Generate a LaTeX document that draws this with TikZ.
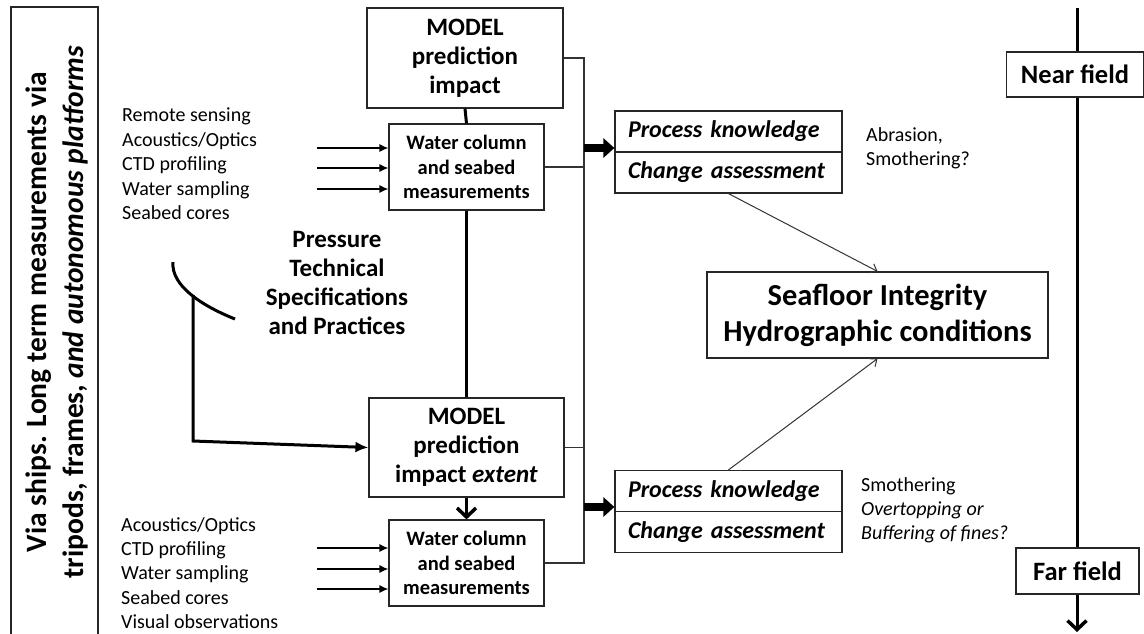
\documentclass[tikz,border=0pt]{standalone}
\usepackage{fontspec}
\setmainfont{Carlito}
\usetikzlibrary{arrows.meta}
\newcommand{\setfs}[2]{\fontsize{#1}{#2}\selectfont}
\begin{document}
\begin{tikzpicture}[x=1pt,y=-1pt,
  box/.style={draw=black!85, line width=1.2pt, fill=white, inner sep=0pt, align=center},
  modelbox/.style={box, minimum width=196pt, minimum height=100pt, font=\bfseries\setfs{25}{29}},
  wcbox/.style={box, minimum width=155pt, minimum height=86pt, font=\bfseries\setfs{20.5}{24.5}},
  pkbox/.style={box, text width=201pt, inner xsep=13pt, inner ysep=0pt, minimum height=41pt, align=left, font=\bfseries\itshape\setfs{24}{28}},
  fieldbox/.style={box, minimum height=45pt, font=\bfseries\setfs{26.5}{30}},
  plain/.style={inner sep=0pt, align=left, anchor=west, font=\setfs{20}{24.5}},
  thickline/.style={line width=3pt},
  inarr/.style={line width=1.2pt, -{Latex[length=9pt,width=8pt]}},
  bus/.style={line width=1.1pt, draw=black!80},
  fat/.style={line width=8pt, -{Triangle[length=11pt,width=19pt]}},
  thinarr/.style={line width=1pt, draw=black!80, -{Straight Barb[length=6pt,width=10pt]}},
  chev/.style={thickline, -{Straight Barb[length=9pt,width=19pt,line width=3.5pt]}}
]
\useasboundingbox (0,0) rectangle (1144,633);

% left vertical label box
\draw[line width=1.2pt, draw=black!85] (11,640) -- (11,7) -- (98,7) -- (98,640);
\node[rotate=90, align=center, inner sep=0pt, font=\bfseries\setfs{29.5}{37}] (side) at (56.5,312)
  {Via ships. Long term measurements via\\tripods, frames, \textit{and autonomous platforms}};

% models and measurement boxes
\node[modelbox] (m1) at (465,58) {MODEL\\prediction\\impact};
\node[wcbox] (wc1) at (466.5,167) {Water column\\and seabed\\measurements};
\node[modelbox, minimum width=195pt, minimum height=99pt] (m2) at (466.5,447.5) {MODEL\\prediction\\impact \textit{extent}};
\node[wcbox] (wc2) at (466.5,563) {Water column\\and seabed\\measurements};

\draw[thickline] (m1.south) -- (wc1.north);
\draw[thickline] (wc1.south) -- (m2.north);
\draw[chev] (m2.south) -- (wc2.north);

% lists
\node[plain] (list1) at (122,164) {Remote sensing\\Acoustics/Optics\\CTD profiling\\Water sampling\\Seabed cores};
\node[plain, font=\setfs{20}{24.2}] (list2) at (121,573) {Acoustics/Optics\\CTD profiling\\Water sampling\\Seabed cores\\Visual observations};

\coordinate (i1) at (317,148);
\coordinate (i2) at (317,168);
\coordinate (i3) at (317,189);
\coordinate (j1) at (317,548);
\coordinate (j2) at (317,569);
\coordinate (j3) at (317,589);
\foreach \c/\b in {i1/wc1,i2/wc1,i3/wc1,j1/wc2,j2/wc2,j3/wc2}
  \draw[inarr] (\c) -- (\c -| \b.west);

% pressure
\node[inner sep=0pt, align=center, font=\bfseries\setfs{25}{29}] (press) at (337,282.5)
  {Pressure\\Technical\\Specifications\\and Practices};
\draw[thickline] (173,262) .. controls (171,285) and (200,305) .. (235,319);
\coordinate (pt) at (193,295);
\coordinate (bend) at (193,441);
\draw[thickline, -{Latex[length=13pt,width=11pt]}] (pt) -- (bend) -- (m2.west);

% bus
\coordinate (bus) at (584,0);
\draw[bus] (m1.east) -- (m1.east -| bus) -- (wc2.east -| bus) -- (wc2.east);
\draw[bus] (wc1.east) -- (wc1.east -| bus);
\draw[bus] (m2.east) -- (m2.east -| bus);

% process knowledge boxes
\node[pkbox] (pk1a) at (728.5,131.5) {Process knowledge};
\node[pkbox] (pk1b) at (728.5,172.5) {Change assessment};
\node[pkbox] (pk2a) at (728.5,491) {Process knowledge};
\node[pkbox] (pk2b) at (728.5,532) {Change assessment};

\coordinate (f1) at (584,148);
\coordinate (f2) at (584,507);
\draw[fat] (f1) -- (f1 -| pk1a.west);
\draw[fat] (f2) -- (f2 -| pk2a.west);

\node[plain, font=\setfs{20}{23.5}] (abr) at (866,148.5) {Abrasion,\\Smothering?};
\node[plain, font=\setfs{20}{24}] (smo) at (861,510) {Smothering\\\textit{Overtopping or}\\\textit{Buffering of fines?}};

% seafloor
\node[box, minimum width=341pt, minimum height=86pt, font=\bfseries\setfs{30.5}{36}] (sea) at (877.5,315)
  {Seafloor Integrity\\Hydrographic conditions};
\draw[thinarr] (pk1b.south) -- (sea.north);
\draw[thinarr] (pk2a.north) -- (sea.south);

% near / far field axis
\node[fieldbox, minimum width=137pt] (near) at (1075,74.5) {Near field};
\node[fieldbox, minimum width=123pt, minimum height=46pt] (far) at (1077.5,571) {Far field};
\coordinate (top) at (1077,8);
\coordinate (bot) at (1077,632);
\draw[thickline] (top) -- (top |- near.north);
\draw[thickline] (near.south -| top) -- (far.north -| top);
\draw[chev] (far.south -| top) -- (bot);
\end{tikzpicture}
\end{document}
